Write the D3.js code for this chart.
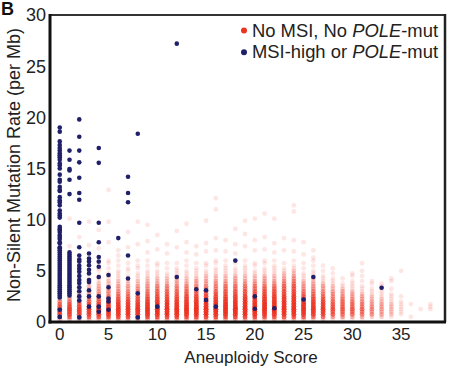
<!DOCTYPE html>
<html><head><meta charset="utf-8">
<script src="https://cdn.jsdelivr.net/npm/d3@7"></script>
<style>body{margin:0;background:#fff}svg{display:block;font-family:"Liberation Sans",Arial,sans-serif}</style>
</head><body><svg id="c" width="465" height="373"></svg>
<script>
// Histogram bins (Mb rate) used for the dense red columns
const rateBins = [0.25,0.5,0.75,1.0,1.25,1.5,1.75,2.0,2.25,2.5,2.75,3.0,3.25,3.5,3.75,4.0,4.25,4.5,4.75,5.0,5.25,5.5,5.75,6.0];
// counts of "No MSI, No POLE-mut" samples per aneuploidy score (index) and rate bin
const redCounts = [
 [3,8,10,11,10,9,7,5,3,2,2,1,1,1,1,1,1,1,1,1,1,1,1,1],
 [3,8,10,11,11,10,8,6,4,3,2,2,1,1,1,1,1,1,1,1,1,1,1,1],
 [3,8,11,12,11,10,8,6,4,3,3,2,2,1,1,1,1,1,1,1,1,1,1,1],
 [3,8,11,12,12,11,9,7,5,4,3,3,2,2,1,1,1,0,1,1,0,1,0,1],
 [3,9,12,13,13,12,10,8,6,5,4,3,3,2,2,1,1,1,0,1,1,0,1,0],
 [3,9,12,13,13,12,11,9,7,5,4,4,3,2,2,2,1,1,1,0,1,0,1,1],
 [4,10,13,14,14,13,12,10,8,6,5,4,3,3,2,2,1,1,1,1,0,1,0,1],
 [4,10,13,14,14,13,12,10,8,6,5,4,3,3,2,2,1,1,0,1,1,0,1,0],
 [4,10,13,15,15,14,12,10,8,7,5,4,4,3,2,2,1,1,1,0,1,1,0,1],
 [4,10,14,15,15,14,13,11,9,7,6,5,4,3,3,2,2,1,1,1,0,1,0,1],
 [4,10,14,16,16,15,14,12,10,8,7,6,5,4,3,2,2,1,1,1,0,1,1,0],
 [4,10,14,16,16,15,14,12,10,8,7,6,5,4,3,2,2,1,1,0,1,0,1,0],
 [4,11,15,16,16,15,14,12,10,8,7,6,5,4,3,3,2,1,1,1,1,0,1,0],
 [4,10,14,16,16,15,14,12,10,9,7,6,5,4,3,2,2,1,1,1,0,1,0,1],
 [4,10,14,16,16,16,14,13,11,9,7,6,5,4,3,3,2,1,1,1,1,0,1,0],
 [4,11,15,16,16,16,15,13,11,9,8,6,5,4,3,3,2,2,1,1,0,1,1,0],
 [4,10,14,16,16,16,15,13,11,9,8,6,5,4,4,3,2,2,1,1,1,0,1,1],
 [4,10,14,16,16,16,15,13,11,9,8,7,6,5,4,3,2,2,1,1,1,1,0,1],
 [4,10,14,16,17,16,15,13,11,10,8,7,6,5,4,3,3,2,1,1,1,0,1,1],
 [4,10,14,16,16,16,15,14,12,10,8,7,6,5,4,3,2,2,1,1,1,1,0,1],
 [4,10,14,16,16,16,15,13,12,10,8,7,6,5,4,3,2,2,1,1,0,1,1,0],
 [3,9,13,15,16,16,15,14,12,11,9,8,7,5,4,3,3,2,1,1,1,0,1,1],
 [3,9,13,15,16,16,15,14,12,11,9,8,7,5,4,3,2,2,1,1,1,1,0,1],
 [3,9,13,15,16,16,15,14,12,11,9,8,7,6,5,4,3,2,2,1,1,0,1,0],
 [3,9,13,15,16,16,15,14,13,12,10,9,8,7,6,5,4,3,2,2,1,1,0,1],
 [3,8,12,14,14,14,13,12,10,8,6,5,4,3,3,2,1,1,1,0,1,0,1,0],
 [2,7,11,13,13,13,12,11,9,7,6,5,4,3,3,2,2,1,1,1,0,1,0,1],
 [2,7,10,12,12,12,11,10,8,6,5,4,3,3,2,1,1,1,0,1,0,1],
 [1,4,7,8,8,8,7,6,5,4,4,3,2,2,1,1,1,0,1,0,1],
 [1,4,6,7,7,7,6,6,5,4,3,3,2,1,1,0,1],
 [1,3,6,7,7,6,6,5,4,3,3,2,1,1,1,1,0,1,1],
 [1,3,5,6,6,5,5,4,3,3,2,1,1,1,0,1,0,1,0,1,0,0,1],
 [0,2,4,4,4,4,3,3,2,2,1,1,1,0,1,1],
 [0,2,3,3,3,3,3,2,2,1,1,1,1,1,1],
 [0,1,2,2,2,2,2,1,1,1,1,0,1,0,0,1,1],
 [0,0,1,1,1,1,1,1,0,1,0,0,0,0,0,0,0,0,0,1],
 [0,1,0,0,0,0,1],
 [0,0,0,0,1],
 [0,0,0,0,1,1,1]
];
// sparse high red points [score, rate]
const redSparse = [
 [0,10.9],[1,10.1],[1,7.4],[2,8.3],[3,9.8],[3,7.5],[4,9.0],[4,7.2],[5,12.9],[5,9.8],[5,7.8],
 [6,7.0],[6,6.5],[7,8.8],[7,7.3],[8,9.8],[8,7.6],[9,9.5],[9,7.9],[9,6.8],[10,8.5],[10,7.1],
 [11,7.6],[11,6.7],[12,8.9],[12,7.3],[13,9.6],[13,7.8],[13,6.8],[14,7.4],[14,6.6],
 [15,9.9],[15,7.7],[15,6.9],[16,12.1],[16,11.0],[16,8.2],[16,7.0],[17,8.0],[17,6.9],
 [18,9.1],[18,7.6],[18,6.7],[19,9.9],[19,8.6],[19,7.4],[20,10.1],[20,8.0],[20,7.0],
 [21,10.6],[21,8.3],[21,7.1],[22,10.1],[22,7.7],[22,6.8],[23,8.2],[23,7.0],
 [24,11.4],[24,10.8],[24,8.0],[24,6.9],[25,7.8],[25,6.6],[26,7.0],[26,6.3]
];
// "MSI-high or POLE-mut" samples
const blueCol0 = [19.0,18.6,17.65,17.3,17.0,16.75,16.5,16.3,16.1,15.85,15.5,15.3,15.0,14.4,13.9,13.7,13.2,12.9,12.8,12.2,11.9,11.7,11.4,10.9,10.6,10.4,10.2,9.3,9.1,9.0,8.8,8.5,8.3,8.1,7.8,7.7,7.3,7.2,7.0,6.8,6.6,6.4,6.2,6.0,5.8,5.6,5.4,5.2,5.0,4.8,4.6,4.4,4.2,4.0,3.8,3.6,3.4,3.2,3.0,2.8,2.6,2.4,1.2,0.5];
const blueCol1 = [16.75,15.85,14.95,14.8,13.9,12.5,6.8,6.6,6.4,6.2,6.0,5.8,5.6,5.4,5.2,5.0,4.8,4.6,4.4,4.2,4.0,3.8,3.6,3.4,3.2,3.0,2.8,2.6];
const blueCol2 = [19.8,18.1,16.75,15.6,14.1,12.6,11.95,9.7,7.3,6.5,6.1,5.9,5.5,5.2,4.9,4.5,4.1,3.8,3.4,3.0,2.5,2.1,0.45];
const blueOther = [
 [3,6.7],[3,6.2],[3,5.9],[3,5.55],[3,5.1],[3,4.75],[3,4.1],[3,3.9],[3,3.1],[3,2.5],[3,1.5],
 [4,17.0],[4,15.55],[4,9.7],[4,7.8],[4,6.35],[4,5.9],[4,5.4],[4,4.4],[4,2.5],[4,1.5],[4,1.0],
 [5,4.6],[5,3.4],[5,2.3],[5,2.0],[5,1.2],[6,8.2],
 [7,14.2],[7,12.6],[7,11.7],[7,6.5],[7,4.25],[8,18.4],[8,2.8],[8,0.45],
 [10,1.5],[12,27.2],[12,4.4],[14,3.2],[15,3.1],[15,2.15],[16,1.5],[18,6.0],
 [20,2.5],[20,1.3],[22,1.35],[25,2.2],[26,4.4],[33,3.35]
];
const xTicks = [0,5,10,15,20,25,30,35];
const yTicks = [0,5,10,15,20,25,30];
const legendLabels = [["No MSI, No ","POLE","-mut"],["MSI-high or ","POLE","-mut"]];

const RED = "rgb(236,52,32)", BLUE = "#1f1f6a";
const svg = d3.select("#c");
const x = d3.scaleLinear().domain([-1, 39.5]).range([50, 445]);
const y = d3.scaleLinear().domain([0, 30]).range([322, 15]);

// red points
const redPts = [];
redCounts.forEach((arr, s) => arr.forEach((n, i) => { for (let k = 0; k < n; k++) redPts.push([s, rateBins[i]]); }));
redSparse.forEach(p => redPts.push(p));
svg.append("g").selectAll("circle").data(redPts).join("circle")
  .attr("cx", d => x(d[0])).attr("cy", d => y(d[1])).attr("r", 2.4)
  .attr("fill", RED).attr("fill-opacity", 0.12);

// blue points
const bluePts = [].concat(blueCol0.map(v => [0, v]), blueCol1.map(v => [1, v]), blueCol2.map(v => [2, v]), blueOther);
svg.append("g").selectAll("circle").data(bluePts).join("circle")
  .attr("cx", d => x(d[0])).attr("cy", d => y(d[1])).attr("r", 2.3)
  .attr("fill", BLUE);

// frame
svg.append("line").attr("x1", 50).attr("x2", 446).attr("y1", 15).attr("y2", 15).attr("stroke", "#333").attr("stroke-width", 2);
svg.append("line").attr("x1", 445).attr("x2", 445).attr("y1", 14).attr("y2", 322).attr("stroke", "#222").attr("stroke-width", 2.5);
svg.append("line").attr("x1", 50).attr("x2", 50).attr("y1", 14).attr("y2", 323.5).attr("stroke", "#111").attr("stroke-width", 3);
svg.append("line").attr("x1", 48.5).attr("x2", 446).attr("y1", 322).attr("y2", 322).attr("stroke", "#111").attr("stroke-width", 3);

// tick labels
svg.append("g").selectAll("text").data(xTicks).join("text")
  .attr("x", d => x(d)).attr("y", 340).attr("text-anchor", "middle")
  .attr("font-size", 17).attr("fill", "#222").text(d => d);
svg.append("g").selectAll("text").data(yTicks).join("text")
  .attr("x", 46).attr("y", d => y(d)).attr("dy", "0.36em").attr("text-anchor", "end")
  .attr("font-size", 18).attr("fill", "#222").text(d => d);

// axis titles
svg.append("text").attr("x", 251).attr("y", 363).attr("text-anchor", "middle")
  .attr("font-size", 17).attr("fill", "#222").text("Aneuploidy Score");
svg.append("text").attr("transform", "translate(20,165) rotate(-90)").attr("text-anchor", "middle")
  .attr("font-size", 18).attr("fill", "#222").text("Non-Silent Mutation Rate (per Mb)");

// panel letter
svg.append("text").attr("x", 1).attr("y", 15).attr("font-size", 18).attr("font-weight", "bold").attr("fill", "#111").text("B");

// legend
const lg = svg.append("g");
[RED, BLUE].forEach((c, i) => {
  const yy = 30.5 + i * 21.7;
  lg.append("circle").attr("cx", 244).attr("cy", yy).attr("r", 3).attr("fill", c);
  const t = lg.append("text").attr("x", 252).attr("y", yy + 6.2).attr("font-size", 18.4).attr("fill", "#222");
  legendLabels[i].forEach((s, j) => t.append("tspan").attr("font-style", j === 1 ? "italic" : "normal").text(s));
});
</script></body></html>
